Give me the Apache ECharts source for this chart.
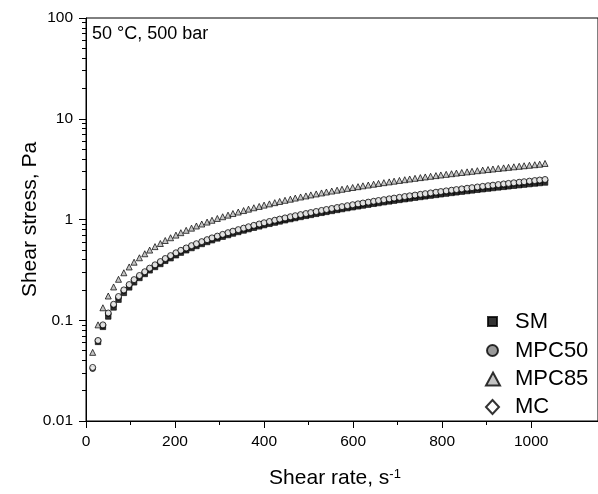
<!DOCTYPE html>
<html><head><meta charset="utf-8">
<script src="https://cdn.jsdelivr.net/npm/echarts@6/dist/echarts.min.js"></script>
<style>html,body{margin:0;padding:0;background:#fff}#c{width:598px;height:494px}</style>
</head><body><div id="c"></div>
<script>
const shearRate = [15,27,38,50,62,73,85,97,108,120,132,143,155,167,178,190,202,213,225,237,248,260,272,283,295,307,319,330,342,354,365,377,389,400,412,424,435,447,459,470,482,494,505,517,529,540,552,564,575,587,599,611,622,634,646,657,669,681,692,704,716,727,739,751,762,774,786,797,809,821,832,844,856,867,879,891,903,914,926,938,949,961,973,984,996,1008,1019,1031];
const SM = [null,0.061,0.086,0.109,0.134,0.160,0.187,0.212,0.238,0.263,0.288,0.313,0.338,0.362,0.389,0.413,0.442,0.469,0.495,0.521,0.546,0.572,0.598,0.623,0.649,0.675,0.701,0.726,0.752,0.778,0.803,0.829,0.855,0.880,0.906,0.932,0.957,0.983,1.010,1.034,1.060,1.087,1.111,1.138,1.165,1.190,1.217,1.245,1.270,1.297,1.324,1.352,1.377,1.404,1.432,1.457,1.485,1.512,1.538,1.565,1.592,1.618,1.646,1.673,1.699,1.727,1.754,1.780,1.808,1.836,1.862,1.890,1.918,1.944,1.972,1.999,2.028,2.054,2.082,2.110,2.136,2.164,2.193,2.219,2.247,2.276,2.302,2.330];
const MPC50 = [0.033,0.062,0.088,0.116,0.141,0.168,0.196,0.221,0.248,0.272,0.297,0.322,0.348,0.374,0.402,0.429,0.458,0.484,0.512,0.539,0.564,0.591,0.618,0.644,0.670,0.698,0.725,0.751,0.777,0.805,0.830,0.858,0.884,0.909,0.937,0.964,0.989,1.016,1.044,1.068,1.096,1.123,1.149,1.177,1.205,1.232,1.260,1.289,1.315,1.344,1.373,1.401,1.428,1.457,1.487,1.513,1.542,1.571,1.598,1.627,1.656,1.684,1.713,1.742,1.769,1.799,1.829,1.856,1.886,1.915,1.942,1.973,2.002,2.030,2.061,2.090,2.121,2.148,2.178,2.209,2.236,2.267,2.297,2.325,2.356,2.386,2.415,2.445];
const MPC85 = [0.048,0.090,0.133,0.174,0.214,0.255,0.296,0.338,0.377,0.417,0.457,0.497,0.538,0.578,0.619,0.659,0.700,0.740,0.781,0.821,0.862,0.902,0.943,0.983,1.024,1.065,1.105,1.146,1.186,1.227,1.267,1.308,1.348,1.389,1.429,1.470,1.510,1.551,1.591,1.632,1.673,1.713,1.754,1.794,1.835,1.875,1.916,1.956,1.997,2.037,2.078,2.118,2.159,2.199,2.240,2.281,2.321,2.362,2.402,2.443,2.483,2.524,2.564,2.605,2.645,2.686,2.726,2.767,2.807,2.848,2.889,2.929,2.970,3.010,3.051,3.091,3.132,3.172,3.213,3.253,3.294,3.334,3.375,3.415,3.456,3.497,3.537,3.600];
const MC = [0.034,0.063,0.090,0.118,0.144,0.172,0.200,0.226,0.253,0.278,0.303,0.329,0.355,0.382,0.410,0.438,0.467,0.494,0.522,0.550,0.575,0.603,0.631,0.657,0.684,0.712,0.740,0.766,0.793,0.821,0.847,0.875,0.902,0.928,0.956,0.984,1.009,1.037,1.065,1.090,1.118,1.146,1.172,1.201,1.230,1.257,1.286,1.315,1.342,1.371,1.401,1.430,1.457,1.487,1.517,1.544,1.573,1.603,1.631,1.660,1.690,1.718,1.748,1.778,1.805,1.836,1.866,1.894,1.924,1.954,1.982,2.013,2.043,2.071,2.103,2.133,2.164,2.192,2.222,2.254,2.282,2.313,2.344,2.372,2.404,2.435,2.464,2.495];
const xMajorTicks = [0,200,400,600,800,1000];
const xMinorTicks = [100,300,500,700,900];
const yMajorTicks = [0.01,0.1,1,10,100];
const yMinorTicks = [0.02,0.03,0.04,0.05,0.06,0.07,0.08,0.09,0.2,0.3,0.4,0.5,0.6,0.7,0.8,0.9,2,3,4,5,6,7,8,9,20,30,40,50,60,70,80,90];
const yTickLabels = {0.01:'0.01', 0.1:'0.1', 1:'1', 10:'10', 100:'100'};

const FONT = 'Liberation Sans, Arial, sans-serif';
const pairs = arr => shearRate.map((x,i)=>[x,arr[i]]).filter(p=>p[1]!=null);

const chart = echarts.init(document.getElementById('c'));
const legendText = pad => ({fontFamily:FONT, fontSize:22, color:'#000', padding:[0,0,0,pad]});
const legendBase = {orient:'vertical', padding:0, selectedMode:false};
chart.setOption({
  animation:false,
  backgroundColor:'#fff',
  title:{text:'50 °C, 500 bar', left:92, top:25, padding:0,
    textStyle:{fontFamily:FONT, fontSize:18, fontWeight:'normal', color:'#000'}},
  grid:{left:86, top:18, width:521, height:408, show:true, borderColor:'#000', borderWidth:1, backgroundColor:'transparent'},
  legend:[
    Object.assign({}, legendBase, {data:['SM'], left:487, top:310.5, itemWidth:9, itemHeight:9, textStyle:legendText(13)}),
    Object.assign({}, legendBase, {data:['MPC50'], left:486, top:339.5, itemWidth:11, itemHeight:11, textStyle:legendText(12)}),
    Object.assign({}, legendBase, {data:['MPC85'], left:485, top:368, itemWidth:14, itemHeight:13, textStyle:legendText(10)}),
    Object.assign({}, legendBase, {data:[{name:'MC', icon:'diamond'}], left:485, top:396, itemWidth:13, itemHeight:14, textStyle:legendText(11)})
  ],
  xAxis:[
    {type:'value', min:0, max:1150, position:'bottom',
     name:'Shear rate, s{sup|-1}', nameLocation:'middle', nameGap:47, nameMoveOverlap:false,
     nameTextStyle:{fontFamily:FONT, fontSize:21, color:'#000', padding:[0,14,0,0],
       rich:{sup:{fontFamily:FONT, fontSize:13, verticalAlign:'top', color:'#000'}}},
     axisLine:{onZero:false, lineStyle:{color:'#000', width:1}},
     axisTick:{customValues:xMajorTicks, length:7, inside:false, lineStyle:{color:'#000'}},
     axisLabel:{customValues:xMajorTicks, margin:13, fontFamily:FONT, fontSize:15.5, color:'#000', formatter:v=>String(v)},
     splitLine:{show:false}},
    {type:'value', min:0, max:1150, position:'bottom',
     axisLine:{show:false, onZero:false},
     axisTick:{customValues:xMinorTicks, length:4, inside:false, lineStyle:{color:'#000'}},
     axisLabel:{show:false}, splitLine:{show:false}}
  ],
  yAxis:[
    {type:'log', logBase:10, min:0.01, max:100, position:'left',
     name:'Shear stress, Pa', nameLocation:'middle', nameGap:45, nameRotate:90, nameMoveOverlap:false,
     nameTextStyle:{fontFamily:FONT, fontSize:21, color:'#000'},
     axisLine:{show:true, onZero:false, lineStyle:{color:'#000', width:1}},
     axisTick:{customValues:yMajorTicks, length:7, inside:false, lineStyle:{color:'#000'}},
     axisLabel:{customValues:yMajorTicks, margin:13, fontFamily:FONT, fontSize:15.5, color:'#000',
       formatter:v=>{for (const k in yTickLabels){ if (Math.abs(+k - v) < 1e-9*Math.max(1,v)) return yTickLabels[k]; } return String(v);}},
     splitLine:{show:false}},
    {type:'log', logBase:10, min:0.01, max:100, position:'left',
     axisLine:{show:false, onZero:false},
     axisTick:{customValues:yMinorTicks, length:4, inside:false, lineStyle:{color:'#000'}},
     axisLabel:{show:false}, splitLine:{show:false}}
  ],
  series:[
    {name:'SM', type:'scatter', data:pairs(SM), symbol:'rect', symbolSize:5.5,
     itemStyle:{color:'#000', borderColor:'#000', borderWidth:0.8}},
    {name:'MPC50', type:'scatter', data:pairs(MPC50), symbol:'circle', symbolSize:5.5,
     itemStyle:{color:'#808080', borderColor:'#000', borderWidth:1}},
    {name:'MPC85', type:'scatter', data:pairs(MPC85), symbol:'triangle', symbolSize:6,
     itemStyle:{color:'#b4b4b4', borderColor:'#000', borderWidth:0.9}},
    {name:'MC', type:'scatter', data:pairs(MC), symbol:'circle', symbolSize:6,
     itemStyle:{color:'#fff', borderColor:'#000', borderWidth:1}}
  ]
});
</script></body></html>
